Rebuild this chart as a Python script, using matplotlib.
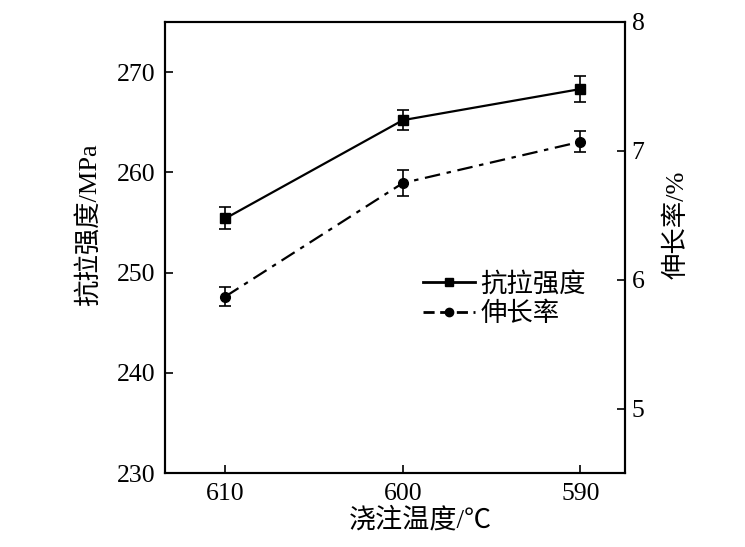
import matplotlib
matplotlib.use("Agg")
import matplotlib.pyplot as plt
from matplotlib.lines import Line2D

plt.rcParams['font.family'] = ['Liberation Serif', 'Noto Sans CJK SC']
plt.rcParams['axes.unicode_minus'] = False

temps = ["610", "600", "590"]
strength = [255.4, 265.2, 268.3]
strength_err = [1.1, 1.0, 1.3]
elong = [5.87, 6.75, 7.07]
elong_err = [0.07, 0.1, 0.08]

fig = plt.figure(figsize=(7.45, 5.47), dpi=100)
ax = fig.add_axes([0.2215, 0.135, 0.617, 0.825])
ax2 = ax.twinx()

x = list(range(len(temps)))
dashdot = (0, (7, 3, 2, 3))

ax.errorbar(x, strength, yerr=strength_err, color="black", lw=1.6,
            marker="s", ms=7, capsize=4, elinewidth=1.2, capthick=1.2)
ax2.errorbar(x, elong, yerr=elong_err, color="black", lw=1.6,
             linestyle=dashdot, marker="o", ms=7, capsize=4,
             elinewidth=1.2, capthick=1.2)

ax.set_xlim(-0.34, 2.25)
ax.set_ylim(230, 275)
ax.set_yticks([230, 240, 250, 260, 270])
ax2.set_ylim(4.5, 8)
ax2.set_yticks([5, 6, 7, 8])
ax.set_xticks(x)
ax.set_xticklabels(temps)

for a in (ax, ax2):
    a.tick_params(direction="in", length=6, width=1.2, labelsize=18.5,
                  colors="black", pad=7)
    for s in a.spines.values():
        s.set_linewidth(1.5)
ax2.tick_params(pad=5)

ax.set_xlabel("浇注温度/℃", fontsize=19.5)
ax.xaxis.set_label_coords(0.555, -0.077)
ax.set_ylabel("抗拉强度/MPa", fontsize=19)
ax.yaxis.set_label_coords(-0.14, 0.55)
ax2.set_ylabel("伸长率/%", fontsize=19, rotation=90)
ax2.yaxis.set_label_coords(1.085, 0.55)

handles = [
    Line2D([], [], color="black", lw=2, marker="s", ms=6),
    Line2D([], [], color="black", lw=2, linestyle=(0, (4, 2, 4, 2)),
           marker="o", ms=6),
]
ax.legend(handles, ["抗拉强度", "伸长率"], loc="upper left",
          bbox_to_anchor=(0.52, 0.488), frameon=False, fontsize=19,
          handlelength=2.0, handletextpad=0.2, labelspacing=0.2,
          borderpad=0.2)

fig.savefig("out.png", dpi=100)
